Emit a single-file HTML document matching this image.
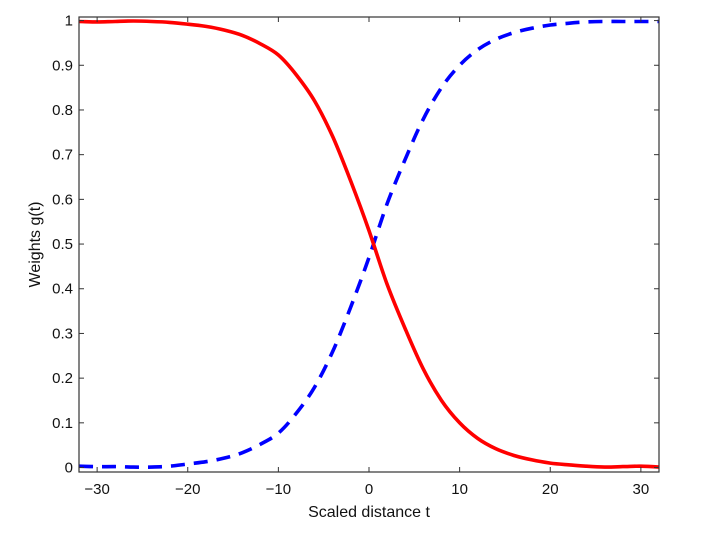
<!DOCTYPE html>
<html><head><meta charset="utf-8"><style>
body{margin:0;background:#fff;}
svg{display:block;font-family:"Liberation Sans",sans-serif;}
</style></head><body>
<svg id="c" width="710" height="535"></svg>
<script>
const tValues=[-32,-30,-28,-26,-24,-22,-20,-18,-16,-14,-12,-10,-8,-6,-4,-2,0,2,4,6,8,10,12,14,16,18,20,22,24,26,28,30,32];
const blueValues=[0.003,0.002,0.002,0.001,0.001,0.003,0.008,0.013,0.021,0.033,0.052,0.077,0.122,0.18,0.26,0.36,0.47,0.59,0.69,0.78,0.85,0.90,0.935,0.958,0.973,0.983,0.99,0.994,0.997,0.998,0.998,0.998,0.998];
const redValues=[0.998,0.997,0.998,0.999,0.998,0.996,0.992,0.987,0.979,0.967,0.948,0.923,0.878,0.82,0.74,0.64,0.53,0.41,0.31,0.22,0.15,0.10,0.065,0.042,0.027,0.017,0.01,0.006,0.003,0.001,0.002,0.003,0.001];
const xTicks=[-30,-20,-10,0,10,20,30];
const yTicks=[0,0.1,0.2,0.3,0.4,0.5,0.6,0.7,0.8,0.9,1];
const L=79,R=659,T=17,B=472,xmin=-32,xmax=32,ymin=-0.01,ymax=1.008;
const X=v=>L+(v-xmin)/(xmax-xmin)*(R-L);
const Y=v=>B-(v-ymin)/(ymax-ymin)*(B-T);
const svg=document.getElementById('c');const NS='http://www.w3.org/2000/svg';
function mk(tag,attrs,parent){const e=document.createElementNS(NS,tag);for(const k in attrs)e.setAttribute(k,attrs[k]);(parent||svg).appendChild(e);return e;}
function path(vals,color,dash,name){
 const pts=tValues.map((t,i)=>[X(t),Y(vals[i])]);
 let d='M'+pts[0][0].toFixed(1)+','+pts[0][1].toFixed(1);
 for(let i=0;i<pts.length-1;i++){
  const p0=pts[Math.max(0,i-1)],p1=pts[i],p2=pts[i+1],p3=pts[Math.min(pts.length-1,i+2)];
  const c1=[p1[0]+(p2[0]-p0[0])/6,p1[1]+(p2[1]-p0[1])/6];
  const c2=[p2[0]-(p3[0]-p1[0])/6,p2[1]-(p3[1]-p1[1])/6];
  d+='C'+c1[0].toFixed(1)+','+c1[1].toFixed(1)+' '+c2[0].toFixed(1)+','+c2[1].toFixed(1)+' '+p2[0].toFixed(1)+','+p2[1].toFixed(1);
 }
 const p=mk('path',{d:d,fill:'none',stroke:color,'stroke-width':3.6,'stroke-dasharray':dash,'stroke-linejoin':'round'});
 
 
}
path(blueValues,'#0000ff','14 9','blue-dashed-series');
path(redValues,'#ff0000','none','red-solid-series');
const box=mk('rect',{x:L,y:T,width:R-L,height:B-T,fill:'none',stroke:'#333','stroke-width':1.2});


xTicks.forEach(v=>{
 mk('line',{x1:X(v),x2:X(v),y1:B,y2:B-5,stroke:'#333'});
 mk('line',{x1:X(v),x2:X(v),y1:T,y2:T+5,stroke:'#333'});
 const t=mk('text',{x:X(v),y:B+22,'text-anchor':'middle','font-size':15,fill:'#111'});
 t.textContent=(v<0?'\u2212'+(-v):v);
 
 
});
yTicks.forEach(v=>{
 mk('line',{x1:L,x2:L+5,y1:Y(v),y2:Y(v),stroke:'#333'});
 mk('line',{x1:R,x2:R-5,y1:Y(v),y2:Y(v),stroke:'#333'});
 const t=mk('text',{x:L-6,y:Y(v)+5,'text-anchor':'end','font-size':15,fill:'#111'});
 t.textContent=String(v);
 
 
});
const xt=mk('text',{x:(L+R)/2,y:517,'text-anchor':'middle','font-size':16,fill:'#111'});
xt.textContent='Scaled distance t';


const yt=mk('text',{x:0,y:0,'text-anchor':'middle','font-size':16,fill:'#111',transform:'translate(40,'+((T+B)/2)+') rotate(-90)'});
yt.textContent='Weights g(t)';


</script>
</body></html>
